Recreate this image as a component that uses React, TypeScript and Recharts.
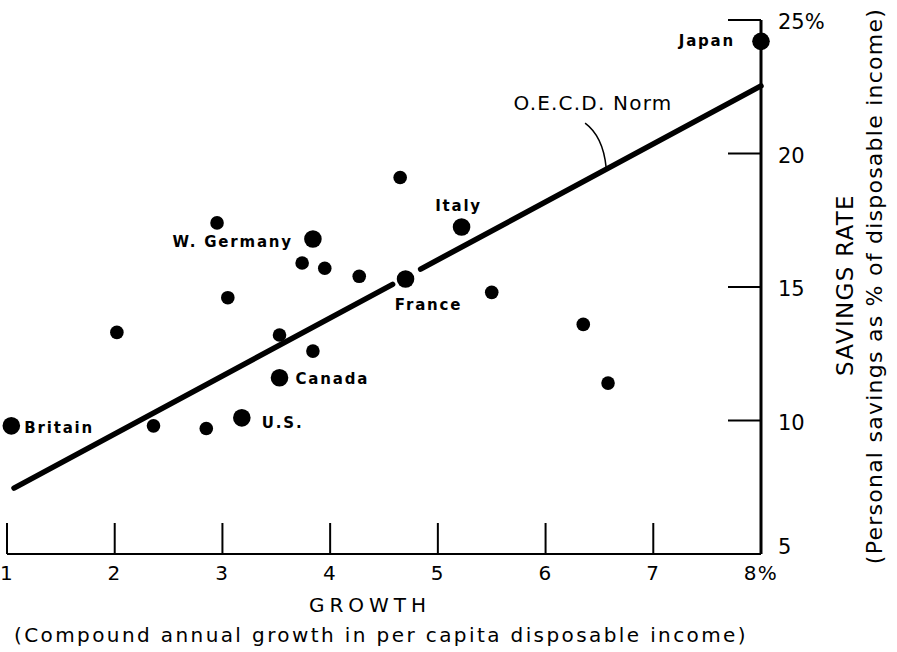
import React from "react";
import {
  ScatterChart,
  Scatter,
  XAxis,
  YAxis,
  ReferenceLine,
  ReferenceDot
} from "recharts";

// labelled countries
const countryNames = ["Japan", "Italy", "W. Germany", "France", "Canada", "U.S.", "Britain"];
const countryGrowth = [8.0, 5.22, 3.84, 4.7, 3.53, 3.18, 1.04];
const countrySavings = [24.2, 17.25, 16.8, 15.3, 11.6, 10.1, 9.8];

// unlabelled O.E.C.D. members
const otherGrowth = [2.02, 2.36, 2.85, 2.95, 3.05, 3.53, 3.74, 3.84, 3.95, 4.27, 4.65, 5.5, 6.35, 6.58];
const otherSavings = [13.3, 9.8, 9.7, 17.4, 14.6, 13.2, 15.9, 12.6, 15.7, 15.4, 19.1, 14.8, 13.6, 11.4];

// O.E.C.D. norm line, drawn in two pieces (break at France)
const normGrowth = [[1.065, 4.58], [4.84, 8.0]];
const normSavings = [[7.47, 15.1], [15.67, 22.53]];
const normLabel = "O.E.C.D. Norm";
const normLabelAt = { x: 6.44, y: 21.89 };
const normPointer = [{ x: 6.367, y: 21.14 }, { x: 6.562, y: 19.49 }];

const xTicks = [1, 2, 3, 4, 5, 6, 7, 8];
const yTicks = [5, 10, 15, 20, 25];

const countries = countryNames.map((name, i) => ({ name, x: countryGrowth[i], y: countrySavings[i] }));
const others = otherGrowth.map((x, i) => ({ x, y: otherSavings[i] }));

const FONT = "DejaVu Sans";

// where each country name sits relative to its dot
const placement: Record<string, { dx: number; dy: number; anchor: "start" | "middle" | "end" }> = {
  Japan: { dx: -26, dy: 0, anchor: "end" },
  Italy: { dx: -3, dy: -21, anchor: "middle" },
  "W. Germany": { dx: -20, dy: 3, anchor: "end" },
  France: { dx: 23, dy: 26, anchor: "middle" },
  Canada: { dx: 16, dy: 1, anchor: "start" },
  "U.S.": { dx: 20, dy: 5, anchor: "start" },
  Britain: { dx: 13, dy: 2, anchor: "start" }
};

const CountryDot = (props: any) => {
  const { cx, cy, payload } = props;
  const p = placement[payload.name] || { dx: 14, dy: 0, anchor: "start" };
  return (
    <g>
      <circle cx={cx} cy={cy} r={8.8} fill="#000" />
      <text
        x={cx + p.dx}
        y={cy + p.dy}
        textAnchor={p.anchor}
        dominantBaseline="central"
        fontFamily={FONT}
        fontWeight="bold"
        fontSize={15}
        letterSpacing={1.8}
        fill="#000"
      >
        {payload.name}
      </text>
    </g>
  );
};

const SmallDot = (props: any) => <circle cx={props.cx} cy={props.cy} r={6.8} fill="#000" />;

const XTick = (props: any) => {
  const { x, y, payload } = props;
  const v = payload.value;
  return (
    <g>
      <line x1={x} y1={y} x2={x} y2={y - 31} stroke="#000" strokeWidth={2} />
      <text x={x} y={y + 19} textAnchor="middle" dominantBaseline="central" fontFamily={FONT} fontSize={20} letterSpacing={1.5} fill="#000">
        {v === 8 ? "8%" : v}
      </text>
    </g>
  );
};

const YTick = (props: any) => {
  const { x, y, payload } = props;
  const v = payload.value;
  return (
    <g>
      {v !== 5 && <line x1={x} y1={y} x2={x - 33} y2={y} stroke="#000" strokeWidth={2} />}
      <text x={x + 17} y={v === 5 ? y - 7 : y + 2} dominantBaseline="central" fontFamily={FONT} fontSize={21} fill="#000">
        {v === 25 ? "25%" : v}
      </text>
    </g>
  );
};

const XTitle = (props: any) => {
  const vb = props.viewBox || { x: 7, y: 554, width: 754 };
  const cx = vb.x + vb.width / 2;
  return (
    <g fontFamily={FONT} fill="#000">
      <text x={cx - 14} y={vb.y + 51} textAnchor="middle" dominantBaseline="central" fontSize={20} letterSpacing={5}>
        GROWTH
      </text>
      <text x={cx - 3} y={vb.y + 81} textAnchor="middle" dominantBaseline="central" fontSize={20} letterSpacing={2.4}>
        (Compound annual growth in per capita disposable income)
      </text>
    </g>
  );
};

const YTitle = (props: any) => {
  const vb = props.viewBox || { x: 761, y: 20, height: 534 };
  const x0 = vb.x;
  return (
    <g fontFamily={FONT} fill="#000">
      <text x={x0 + 84} y={285} transform={`rotate(-90 ${x0 + 84} 285)`} textAnchor="middle" dominantBaseline="central" fontSize={23} letterSpacing={1.3}>
        SAVINGS RATE
      </text>
      <text x={x0 + 113} y={286} transform={`rotate(-90 ${x0 + 113} 286)`} textAnchor="middle" dominantBaseline="central" fontSize={22} letterSpacing={1.25}>
        (Personal savings as % of disposable income)
      </text>
    </g>
  );
};

const Pointer = (props: any) => {
  const { x1, y1, x2, y2 } = props;
  if (x1 == null) return null;
  const qx = x1 + (x2 - x1) * 0.85;
  const qy = y1 + (y2 - y1) * 0.3;
  return <path d={`M${x1},${y1} Q${qx},${qy} ${x2},${y2}`} stroke="#000" strokeWidth={1.5} fill="none" />;
};

export default function App() {
  return (
    <div style={{ position: "absolute", left: 0, top: 0, background: "#fff" }}>
      <ScatterChart width={897} height={652} margin={{ top: 20, left: 7, right: 0, bottom: 0 }} style={{ fontFamily: FONT }}>
        <XAxis
          type="number"
          dataKey="x"
          domain={[1, 8]}
          ticks={xTicks}
          height={98}
          tickSize={0}
          tickMargin={0}
          tickLine={false}
          tick={XTick}
          axisLine={{ stroke: "#000", strokeWidth: 2.2 }}
          label={<XTitle />}
        />
        <YAxis
          type="number"
          dataKey="y"
          orientation="right"
          domain={[5, 25]}
          ticks={yTicks}
          width={136}
          tickSize={0}
          tickMargin={0}
          tickLine={false}
          tick={YTick}
          axisLine={{ stroke: "#000", strokeWidth: 3 }}
          label={<YTitle />}
        />
        {normGrowth.map((g, i) => (
          <ReferenceLine
            key={i}
            segment={[{ x: g[0], y: normSavings[i][0] }, { x: g[1], y: normSavings[i][1] }]}
            stroke="#000"
            strokeWidth={5.5}
            strokeLinecap="round"
            ifOverflow="visible"
          />
        ))}
        <ReferenceLine segment={normPointer} ifOverflow="visible" shape={Pointer} />
        <ReferenceDot
          x={normLabelAt.x}
          y={normLabelAt.y}
          r={0}
          ifOverflow="visible"
          shape={(p: any) => (
            <text x={p.cx} y={p.cy} textAnchor="middle" dominantBaseline="central" fontFamily={FONT} fontSize={20} letterSpacing={1.2} fill="#000">
              {normLabel}
            </text>
          )}
        />
        <Scatter data={others} shape={SmallDot} isAnimationActive={false} />
        <Scatter data={countries} shape={CountryDot} isAnimationActive={false} />
      </ScatterChart>
    </div>
  );
}
